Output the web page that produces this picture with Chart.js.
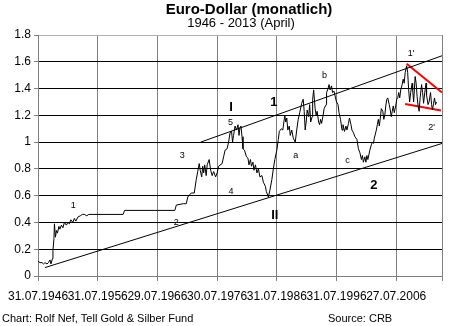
<!DOCTYPE html>
<html>
<head>
<meta charset="utf-8">
<script src="https://cdn.jsdelivr.net/npm/chart.js@4"></script>
<style>
  html, body { margin: 0; padding: 0; background: #fff; }
  #wrap { width: 450px; height: 326px; }
</style>
</head>
<body>
<div id="wrap"><canvas id="euroChart" width="450" height="326"></canvas></div>
<script>
// months counted from July 1946, rate in USD per EUR
const months = [
  0, 4, 8, 11, 14, 18, 21, 24, 26, 29, 30, 32, 33, 35, 37, 39, 42, 44, 47, 50,
  53, 57, 60, 63, 66, 70, 73, 76, 80, 85, 89, 93, 98, 102, 171, 174, 240, 275, 278, 292,
  298, 301, 308, 314, 318, 321, 324, 326, 329, 331, 333, 335, 338, 340, 344, 347, 350, 353, 357, 360,
  363, 370, 373, 376, 380, 383, 386, 389, 391, 393, 396, 399, 402, 404, 406, 408, 410, 412, 415, 419,
  422, 424, 427, 429, 432, 434, 437, 440, 443, 446, 450, 453, 457, 459, 463, 466, 470, 473, 476, 480,
  483, 485, 489, 492, 496, 498, 500, 502, 505, 507, 510, 513, 517, 520, 523, 526, 530, 533, 535, 537,
  539, 541, 544, 546, 548, 551, 552, 554, 557, 559, 561, 564, 566, 568, 570, 573, 575, 579, 580, 583,
  585, 587, 590, 592, 595, 598, 600, 603, 605, 608, 611, 613, 616, 619, 621, 624, 626, 629, 631, 634,
  637, 641, 644, 647, 650, 652, 654, 657, 659, 661, 663, 667, 670, 672, 674, 676, 680, 682, 684, 686,
  688, 690, 693, 695, 697, 699, 701, 703, 706, 708, 710, 712, 714, 716, 719, 721, 723, 725, 727, 729,
  732, 734, 736, 738, 741, 743, 745, 747, 749, 752, 753, 755, 758, 760, 762, 764, 766, 768, 771, 773,
  775, 778, 780, 781, 784, 786, 789, 791, 793, 795, 797, 799, 801
];
const rates = [
  0.11, 0.10, 0.10, 0.09, 0.10, 0.09, 0.10, 0.12, 0.09, 0.13, 0.19, 0.28, 0.39, 0.29, 0.34, 0.32, 0.37, 0.35, 0.38, 0.36,
  0.40, 0.38, 0.40, 0.39, 0.42, 0.40, 0.43, 0.41, 0.44, 0.45, 0.46, 0.46, 0.45, 0.46, 0.46, 0.49, 0.49, 0.49, 0.53, 0.54,
  0.54, 0.59, 0.62, 0.62, 0.72, 0.78, 0.84, 0.79, 0.74, 0.82, 0.77, 0.83, 0.75, 0.83, 0.87, 0.79, 0.75, 0.78, 0.74, 0.77,
  0.82, 0.84, 0.89, 0.94, 0.95, 1.00, 1.07, 1.08, 1.00, 1.05, 1.12, 1.09, 1.13, 1.05, 1.11, 1.12, 1.04, 0.95, 0.94, 0.89,
  0.88, 0.83, 0.87, 0.82, 0.85, 0.79, 0.83, 0.77, 0.80, 0.74, 0.75, 0.70, 0.67, 0.63, 0.59, 0.64, 0.72, 0.80, 0.87, 0.94,
  1.02, 1.08, 1.10, 1.09, 1.20, 1.15, 1.18, 1.09, 1.12, 1.05, 1.09, 1.03, 1.00, 1.09, 1.17, 1.22, 1.29, 1.32, 1.23, 1.09,
  1.15, 1.24, 1.19, 1.28, 1.15, 1.19, 1.32, 1.39, 1.25, 1.20, 1.23, 1.15, 1.13, 1.17, 1.14, 1.20, 1.25, 1.28, 1.37, 1.40,
  1.43, 1.39, 1.42, 1.37, 1.38, 1.33, 1.30, 1.28, 1.22, 1.17, 1.09, 1.13, 1.08, 1.12, 1.09, 1.14, 1.18, 1.13, 1.09, 1.07,
  1.04, 1.02, 0.95, 0.92, 0.87, 0.90, 0.85, 0.89, 0.85, 0.90, 0.87, 0.94, 0.98, 1.00, 0.99, 1.03, 1.09, 1.13, 1.17, 1.12,
  1.18, 1.25, 1.23, 1.17, 1.20, 1.27, 1.32, 1.33, 1.28, 1.24, 1.19, 1.23, 1.27, 1.22, 1.27, 1.32, 1.33, 1.37, 1.33, 1.39,
  1.43, 1.47, 1.44, 1.52, 1.57, 1.52, 1.39, 1.30, 1.37, 1.44, 1.39, 1.30, 1.49, 1.44, 1.34, 1.27, 1.23, 1.33, 1.43, 1.37,
  1.29, 1.39, 1.44, 1.35, 1.28, 1.30, 1.37, 1.28, 1.24, 1.29, 1.33, 1.28, 1.30
];

const tickMonths = [0, 120, 240, 360, 480, 600, 720];
const tickLabels = ["31.07.1946", "31.07.1956", "29.07.1966", "30.07.1976", "31.07.1986", "31.07.1996", "27.07.2006"];
const lastMonth = 812;

// trend lines: [month, rate] end points
const lowerChannel = [[14, 0.063], [812, 0.99]];
const upperChannel = [[327, 1.0], [812, 1.645]];
const redUpper = [[741, 1.585], [812, 1.37]];
const redLower = [[738, 1.284], [810, 1.236]];

// wave labels: text, month, rate, bold
const waveLabels = [
  ["1", 71, 0.53, false],
  ["2", 278, 0.40, false],
  ["3", 290, 0.90, false],
  ["4", 388, 0.63, false],
  ["5", 387, 1.15, false],
  ["I", 388, 1.26, true],
  ["1", 474, 1.30, true],
  ["II", 476, 0.455, true],
  ["a", 518, 0.90, false],
  ["b", 576, 1.50, false],
  ["c", 622, 0.86, false],
  ["2", 675, 0.68, true],
  ["1'", 750, 1.66, false],
  ["2'", 791, 1.11, false]
];

const toPoints = (pairs) => pairs.map(p => ({ x: p[0], y: p[1] }));

const textPlugin = {
    id: "texts",
    afterDatasetsDraw(chart) {
        const { ctx, scales } = chart;
        ctx.save();
        ctx.fillStyle = "#000";
        ctx.textAlign = "center";
        ctx.textBaseline = "middle";
        waveLabels.forEach(([txt, m, v, bold]) => {
            ctx.font = bold ? "bold 13px Arial, 'Liberation Sans'" : "9px Arial, 'Liberation Sans'";
            ctx.fillText(txt, scales.x.getPixelForValue(m), scales.y.getPixelForValue(v));
        });

        ctx.font = "bold 15px Arial, 'Liberation Sans'";
        ctx.fillText("Euro-Dollar (monatlich)", 249, 10);
        ctx.font = "13px Arial, 'Liberation Sans'";
        ctx.fillText("1946 - 2013 (April)", 241, 23);

        ctx.textAlign = "left";
        ctx.font = "11px Arial, 'Liberation Sans'";
        ctx.fillText("Chart: Rolf Nef, Tell Gold & Silber Fund", 2, 319);
        ctx.fillText("Source: CRB", 328, 319);
        ctx.restore();
    }
};

const lineStyle = (color, width) => ({
    borderColor: color,
    borderWidth: width,
    pointRadius: 0,
    tension: 0,
    fill: false
});

new Chart(document.getElementById("euroChart"), {
    type: "line",
    data: {
        datasets: [
            { label: "Euro-Dollar", data: months.map((m, i) => ({ x: m, y: rates[i] })), ...lineStyle("#000", 1) },
            { label: "lower", data: toPoints(lowerChannel), ...lineStyle("#000", 1) },
            { label: "upper", data: toPoints(upperChannel), ...lineStyle("#000", 1) },
            { label: "red upper", data: toPoints(redUpper), ...lineStyle("#ff0000", 2) },
            { label: "red lower", data: toPoints(redLower), ...lineStyle("#ff0000", 2) }
        ]
    },
    options: {
        responsive: false,
        animation: false,
        layout: { padding: { top: 35, left: 0, right: 2, bottom: 20 } },
        plugins: {
            legend: { display: false },
            tooltip: { enabled: false }
        },
        scales: {
            x: {
                type: "linear",
                min: 0,
                max: lastMonth,
                afterBuildTicks: (scale) => {
                    scale.ticks = tickMonths.concat([lastMonth]).map(v => ({ value: v }));
                },
                afterFit: (scale) => { scale.height = 30; },
                grid: { color: "#808080", tickColor: "#808080", tickLength: 5 },
                border: { color: "#808080" },
                ticks: {
                    autoSkip: false,
                    maxRotation: 0,
                    padding: 8,
                    color: "#000",
                    font: { family: "Arial, 'Liberation Sans'", size: 12 },
                    callback: (value) => {
                        const i = tickMonths.indexOf(value);
                        return i >= 0 ? tickLabels[i] : "";
                    }
                }
            },
            y: {
                min: 0,
                max: 1.8,
                afterFit: (scale) => { scale.width = 33; },
                grid: {
                    color: (c) => c.tick.value === 1.8 ? "#b0b0b0" : (c.tick.value === 0 ? "#808080" : "#000"),
                    tickColor: "#808080",
                    tickLength: 4
                },
                border: { color: "#808080" },
                ticks: {
                    stepSize: 0.2,
                    padding: 3,
                    color: "#000",
                    font: { family: "Arial, 'Liberation Sans'", size: 12 },
                    callback: (value) => String(Math.round(value * 10) / 10)
                }
            }
        }
    },
    plugins: [textPlugin]
});
</script>
</body>
</html>
